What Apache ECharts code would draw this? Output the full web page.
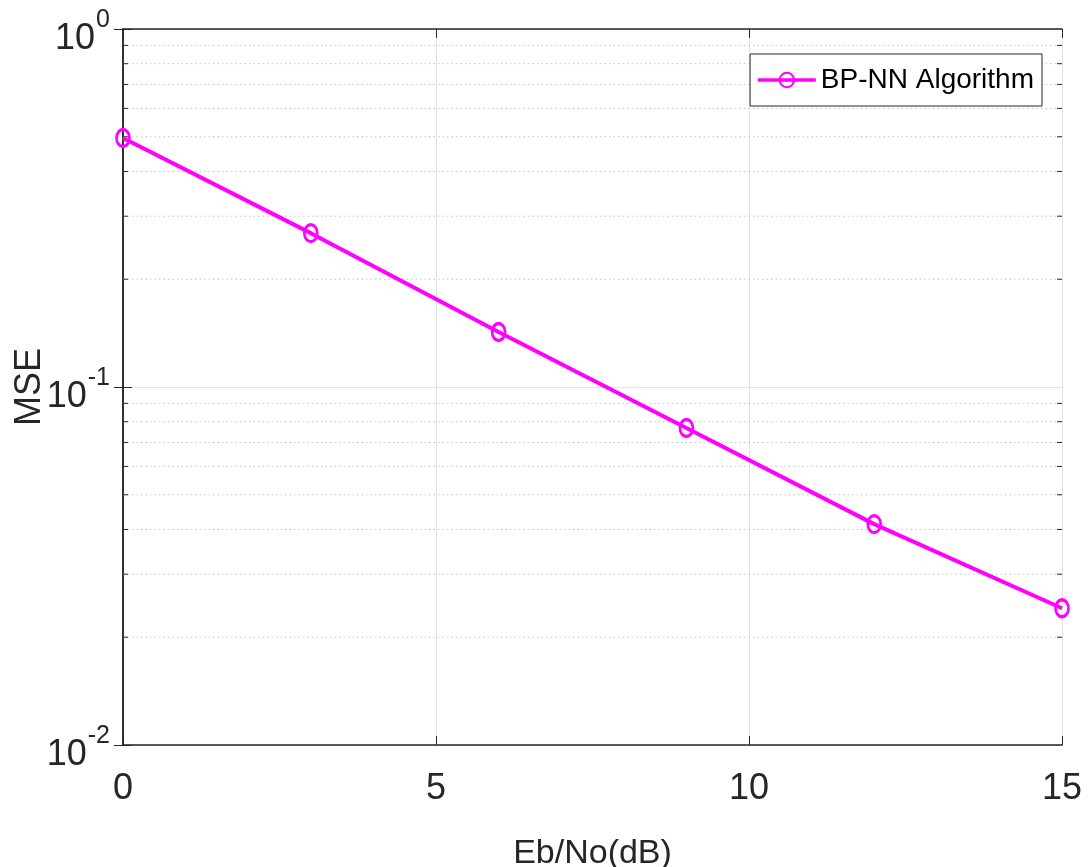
<!DOCTYPE html>
<html><head><meta charset="utf-8">
<script src="https://cdn.jsdelivr.net/npm/echarts@6/dist/echarts.min.js"></script>
<style>html,body{margin:0;padding:0;background:#fff}#c{width:1091px;height:867px}</style>
</head><body><div id="c"></div>
<script>
const xValues = [0, 3, 6, 9, 12, 15];
const mseValues = [0.496, 0.269, 0.1425, 0.0768, 0.0414, 0.0241];
const seriesName = 'BP-NN Algorithm';
const xTicks = [0, 5, 10, 15];
const minorTicks = [0.02,0.03,0.04,0.05,0.06,0.07,0.08,0.09,0.2,0.3,0.4,0.5,0.6,0.7,0.8,0.9];
const FONT = '"Liberation Sans", Arial, Helvetica, sans-serif';
const AX = '#262626';
const CLR = 'rgba(0,0,0,0)';

const chart = echarts.init(document.getElementById('c'), null, {renderer:'canvas'});
chart.setOption({
  animation:false,
  backgroundColor:'#fff',
  grid:{left:123, right:29, top:29, bottom:122, show:false, containLabel:false, outerBoundsMode:'none'},
  legend:{
    data:[seriesName], right:49, top:54, orient:'horizontal',
    backgroundColor:'#fff', borderColor:AX, borderWidth:1,
    padding:[12,8,12,6], itemWidth:58, itemHeight:18, itemGap:6,
    lineStyle:{width:3.5, color:'#ff00ff'},
    textStyle:{fontFamily:FONT, fontSize:28, color:'#000'}
  },
  xAxis:[{
    type:'value', min:0, max:15, interval:5, position:'bottom',
    axisLine:{show:true, lineStyle:{color:AX, width:1.5}},
    axisTick:{show:true, inside:true, length:9, lineStyle:{color:AX}},
    axisLabel:{fontFamily:FONT, fontSize:36, color:AX, margin:26},
    splitLine:{show:true, lineStyle:{color:'#e3e3e3', width:1}},
    name:'Eb/No(dB)', nameLocation:'middle', nameGap:92, nameMoveOverlap:false,
    nameTextStyle:{fontFamily:FONT, fontSize:34, color:AX}
  },{
    type:'value', min:0, max:15, interval:5, position:'top',
    axisLine:{show:true, lineStyle:{color:AX, width:1.5}},
    axisTick:{show:true, inside:true, length:9, lineStyle:{color:AX}},
    axisLabel:{show:false}, splitLine:{show:false}
  }],
  yAxis:[{
    type:'log', logBase:10, min:0.01, max:1, position:'left',
    axisLine:{show:true, lineStyle:{color:AX, width:1.5}},
    axisTick:{show:true, inside:true, length:9, lineStyle:{color:AX}},
    splitLine:{show:true, lineStyle:{color:'#e3e3e3', width:1}},
    axisLabel:{
      margin:13, color:AX, padding:[16,0,0,0],
      formatter:function(v){
        const e = Math.round(Math.log10(v));
        return '{hb|10}{s|' + e + '}\n{b|10}{hs|' + e + '}';
      },
      rich:{
        b:{fontFamily:FONT, fontSize:36, color:AX, lineHeight:34},
        hb:{fontFamily:FONT, fontSize:36, color:CLR, lineHeight:4},
        s:{fontFamily:FONT, fontSize:25, color:AX, lineHeight:4, padding:[0,0,0,1]},
        hs:{fontFamily:FONT, fontSize:25, color:CLR, lineHeight:34, padding:[0,0,0,1]}
      }
    },
    name:'MSE', nameLocation:'middle', nameGap:75, nameMoveOverlap:false,
    nameTextStyle:{fontFamily:FONT, fontSize:36, color:AX}
  },{
    type:'log', logBase:10, min:0.01, max:1, position:'right',
    axisLine:{show:true, lineStyle:{color:AX, width:1.5}},
    axisTick:{show:true, inside:true, length:9, lineStyle:{color:AX}},
    axisLabel:{show:false}, splitLine:{show:false}
  }],
  series:[{
    type:'custom', xAxisIndex:0, yAxisIndex:0, silent:true, z:1,
    data: minorTicks.map(v=>[0, v]),
    renderItem:function(params, api){
      const cs = params.coordSys;
      const y = api.coord([0, api.value(1)])[1];
      const l = cs.x, r = cs.x + cs.width;
      return {type:'group', children:[
        {type:'line', shape:{x1:l, y1:y, x2:r, y2:y}, style:{stroke:'#c4c4c4', lineWidth:1, lineDash:[1.5,3]}},
        {type:'line', shape:{x1:l, y1:y, x2:l+5, y2:y}, style:{stroke:AX, lineWidth:1}},
        {type:'line', shape:{x1:r-5, y1:y, x2:r, y2:y}, style:{stroke:AX, lineWidth:1}}
      ]};
    }
  },{
    name:seriesName, type:'line', xAxisIndex:0, yAxisIndex:0, z:5,
    data: xValues.map((x,i)=>[x, mseValues[i]]),
    symbol:'circle', symbolSize:[13,17], showAllSymbol:true,
    lineStyle:{color:'#ff00ff', width:4},
    itemStyle:{color:'rgba(255,255,255,0)', borderColor:'#ff00ff', borderWidth:3},
    clip:false
  }]
});
</script></body></html>
